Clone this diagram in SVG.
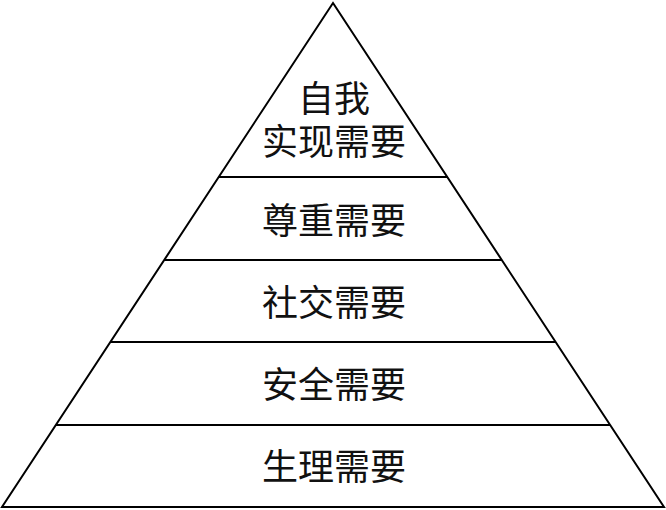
<svg xmlns="http://www.w3.org/2000/svg" width="666" height="510" viewBox="0 0 666 510">
<style>
.ln{stroke:#000;stroke-width:2;fill:none}
.t{font-family:"Noto Sans CJK SC","Noto Sans",sans-serif;font-size:36px;fill:#111;text-anchor:middle;dominant-baseline:central}
</style>
<rect width="666" height="510" fill="#fff"/>
<g id="connectors">
<polygon class="ln" points="333,3 664,507 2,507" stroke-linejoin="miter"/>
<line class="ln" x1="218" y1="177" x2="448" y2="177"/>
<line class="ln" x1="164" y1="260" x2="502" y2="260"/>
<line class="ln" x1="110" y1="342" x2="556" y2="342"/>
<line class="ln" x1="56" y1="425" x2="610" y2="425"/>
</g>
<g id="n1"><text class="t" x="334" y="96">自我</text><text class="t" x="334" y="139">实现需要</text></g>
<g id="n2"><text class="t" x="334" y="218">尊重需要</text></g>
<g id="n3"><text class="t" x="334" y="300">社交需要</text></g>
<g id="n4"><text class="t" x="334" y="382">安全需要</text></g>
<g id="n5"><text class="t" x="334" y="464">生理需要</text></g>
</svg>
